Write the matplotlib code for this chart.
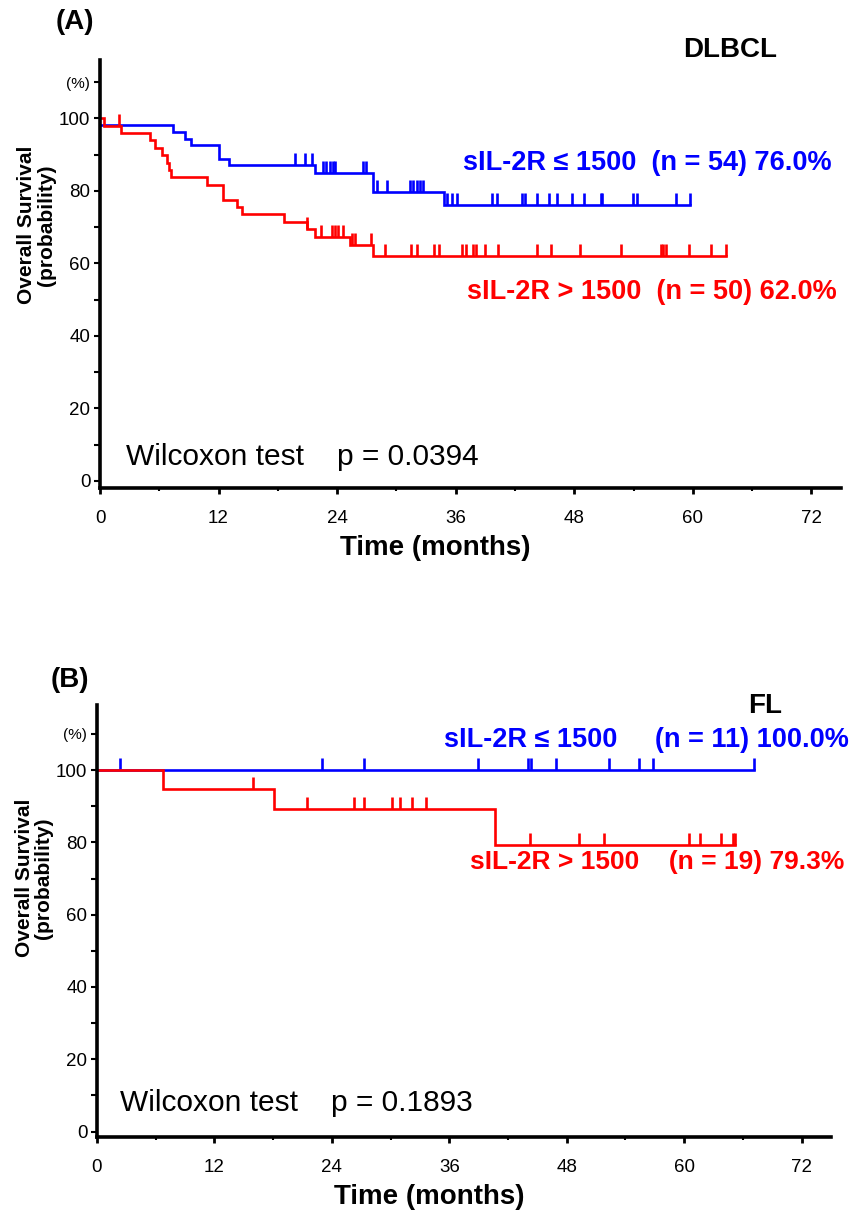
import numpy as np
import matplotlib
matplotlib.use('Agg')
import matplotlib.pyplot as plt
from matplotlib.ticker import MultipleLocator

plt.rcParams['font.family'] = ['Liberation Sans', 'DejaVu Sans']

# ---- panel A (DLBCL) ----
a_blue_t = [0, 7.4, 8.6, 9.2, 12.0, 13.1, 21.8, 27.6, 34.8]
a_blue_s = [98.1, 96.3, 94.4, 92.6, 88.9, 87.0, 85.0, 79.8, 76.0]
a_blue_end = 59.7
a_blue_cens = [19.7, 20.7, 21.5, 22.6, 22.9, 23.3, 23.6, 23.8, 26.6, 26.9,
               28.0, 29.0, 31.4, 31.7, 32.1, 32.4, 32.7, 35.1, 35.6, 36.1,
               39.7, 40.2, 42.7, 43.0, 44.2, 45.4, 46.3, 47.8, 49.0, 50.7,
               50.8, 53.9, 54.4, 58.3, 59.7]

a_red_t = [0, 0.4, 2.1, 5.1, 5.6, 6.3, 6.8, 7.0, 7.2, 10.8, 12.4, 13.9, 14.4,
           18.6, 21.0, 21.8, 25.3, 27.6]
a_red_s = [100, 98.0, 96.0, 93.9, 91.9, 89.8, 87.8, 85.7, 83.7, 81.6, 77.5,
           75.5, 73.5, 71.4, 69.4, 67.3, 65.0, 62.0]
a_red_end = 63.4
a_red_cens = [1.9, 21.0, 22.4, 23.5, 23.8, 24.1, 24.6, 25.5, 25.8, 27.4,
              28.8, 31.5, 32.1, 33.8, 34.3, 36.6, 37.0, 37.8, 38.1, 39.0,
              40.3, 44.2, 45.6, 48.6, 52.7, 56.8, 57.0, 57.3, 59.6, 61.8, 63.4]

# ---- panel B (FL) ----
b_blue_t = [0]
b_blue_s = [100]
b_blue_end = 67.1
b_blue_cens = [2.4, 23.0, 27.3, 38.9, 44.0, 44.3, 46.9, 52.3, 55.4, 56.8, 67.1]

b_red_t = [0, 6.7, 18.1, 40.7]
b_red_s = [100, 94.7, 89.2, 79.3]
b_red_end = 65.2
b_red_cens = [15.9, 21.5, 26.3, 27.3, 30.1, 31.0, 32.2, 33.6, 44.2, 49.3,
              51.8, 60.5, 61.6, 63.8, 65.0, 65.2]

BLUE = '#0000ff'
RED = '#ff0000'
W, H = 859, 1218
NARROW = ['Liberation Sans Narrow', 'Liberation Sans', 'DejaVu Sans']


def km_curve(ax, t, s, end, cens, color):
    t = list(t) + [end]
    s = list(s) + [s[-1]]
    ax.step(t, s, where='post', color=color, lw=1.9, solid_joinstyle='miter')
    c = np.array(cens)
    idx = np.searchsorted(np.array(t[:-1]), c, side='right') - 1
    lev = np.array(s)[idx]
    ax.vlines(c, lev, lev + 3.3, color=color, lw=1.9)


def setup(ax, ylab_y):
    ax.set_xlim(0, 75)
    ax.set_ylim(-2, 116)
    for sp in ['top', 'right']:
        ax.spines[sp].set_visible(False)
    for sp in ['left', 'bottom']:
        ax.spines[sp].set_linewidth(2.6)
    ax.set_yticks([0, 20, 40, 60, 80, 100, 110])
    ax.set_yticklabels(['0', '20', '40', '60', '80', '100', '(%)'])
    ax.yaxis.set_minor_locator(MultipleLocator(10))
    ax.set_xticks([0, 12, 24, 36, 48, 60, 72])
    ax.xaxis.set_minor_locator(MultipleLocator(6))
    ax.tick_params(axis='y', which='both', direction='out', length=4, width=1.5,
                   labelsize=13.5, pad=3)
    ax.tick_params(axis='x', which='major', direction='out', length=4, width=2,
                   labelsize=13.5, pad=12)
    ax.tick_params(axis='x', which='minor', direction='out', length=2, width=1.5)
    for l in ax.get_xticklabels() + ax.get_yticklabels():
        l.set_family(NARROW)
    ax.get_yticklabels()[-1].set_fontsize(11)
    ax.text(-0.086, ylab_y, 'Overall Survival\n(probability)', transform=ax.transAxes,
            rotation=90, ha='center', va='center', fontsize=15,
            fontweight='bold', multialignment='center', linespacing=1.05)
    ax.text(0.452, -0.14, 'Time (months)', transform=ax.transAxes,
            ha='center', va='center', fontsize=20, fontweight='bold')


fig = plt.figure(figsize=(W / 100, H / 100), dpi=100)

# panel A
ax_a = fig.add_axes([100 / W, 1 - 488 / H, 741 / W, 427.7 / H])
setup(ax_a, 0.615)
km_curve(ax_a, a_blue_t, a_blue_s, a_blue_end, a_blue_cens, BLUE)
km_curve(ax_a, a_red_t, a_red_s, a_red_end, a_red_cens, RED)
ax_a.text(36.7, 87.7, 'sIL-2R \u2264 1500  (n = 54) 76.0%', color=BLUE,
          fontsize=19.5, fontweight='bold', ha='left', va='center')
ax_a.text(37.1, 52.1, 'sIL-2R > 1500  (n = 50) 62.0%', color=RED,
          fontsize=19.5, fontweight='bold', ha='left', va='center')
ax_a.text(2.6, 6.6, 'Wilcoxon test    p = 0.0394', fontsize=21.5,
          ha='left', va='center')
fig.text(75 / W, 1 - 22 / H, '(A)', fontsize=20, fontweight='bold',
         ha='center', va='center')
fig.text(730 / W, 1 - 50 / H, 'DLBCL', fontsize=20, fontweight='bold',
         ha='center', va='center')

# panel B
ax_b = fig.add_axes([97 / W, 1 - 1137 / H, 734 / W, 432 / H])
setup(ax_b, 0.60)
ax_b.set_ylim(-1.5, 118)
km_curve(ax_b, b_blue_t, b_blue_s, b_blue_end, b_blue_cens, BLUE)
km_curve(ax_b, b_red_t, b_red_s, b_red_end, b_red_cens, RED)
ax_b.text(35.5, 108.3, 'sIL-2R \u2264 1500     (n = 11) 100.0%', color=BLUE,
          fontsize=19.5, fontweight='bold', ha='left', va='center')
ax_b.text(38.1, 74.6, 'sIL-2R > 1500    (n = 19) 79.3%', color=RED,
          fontsize=19, fontweight='bold', ha='left', va='center')
ax_b.text(2.3, 7.9, 'Wilcoxon test    p = 0.1893', fontsize=21.5,
          ha='left', va='center')
fig.text(70 / W, 1 - 680 / H, '(B)', fontsize=20, fontweight='bold',
         ha='center', va='center')
fig.text(765 / W, 1 - 706 / H, 'FL', fontsize=20, fontweight='bold',
         ha='center', va='center')

fig.savefig('out.png', dpi=100)
